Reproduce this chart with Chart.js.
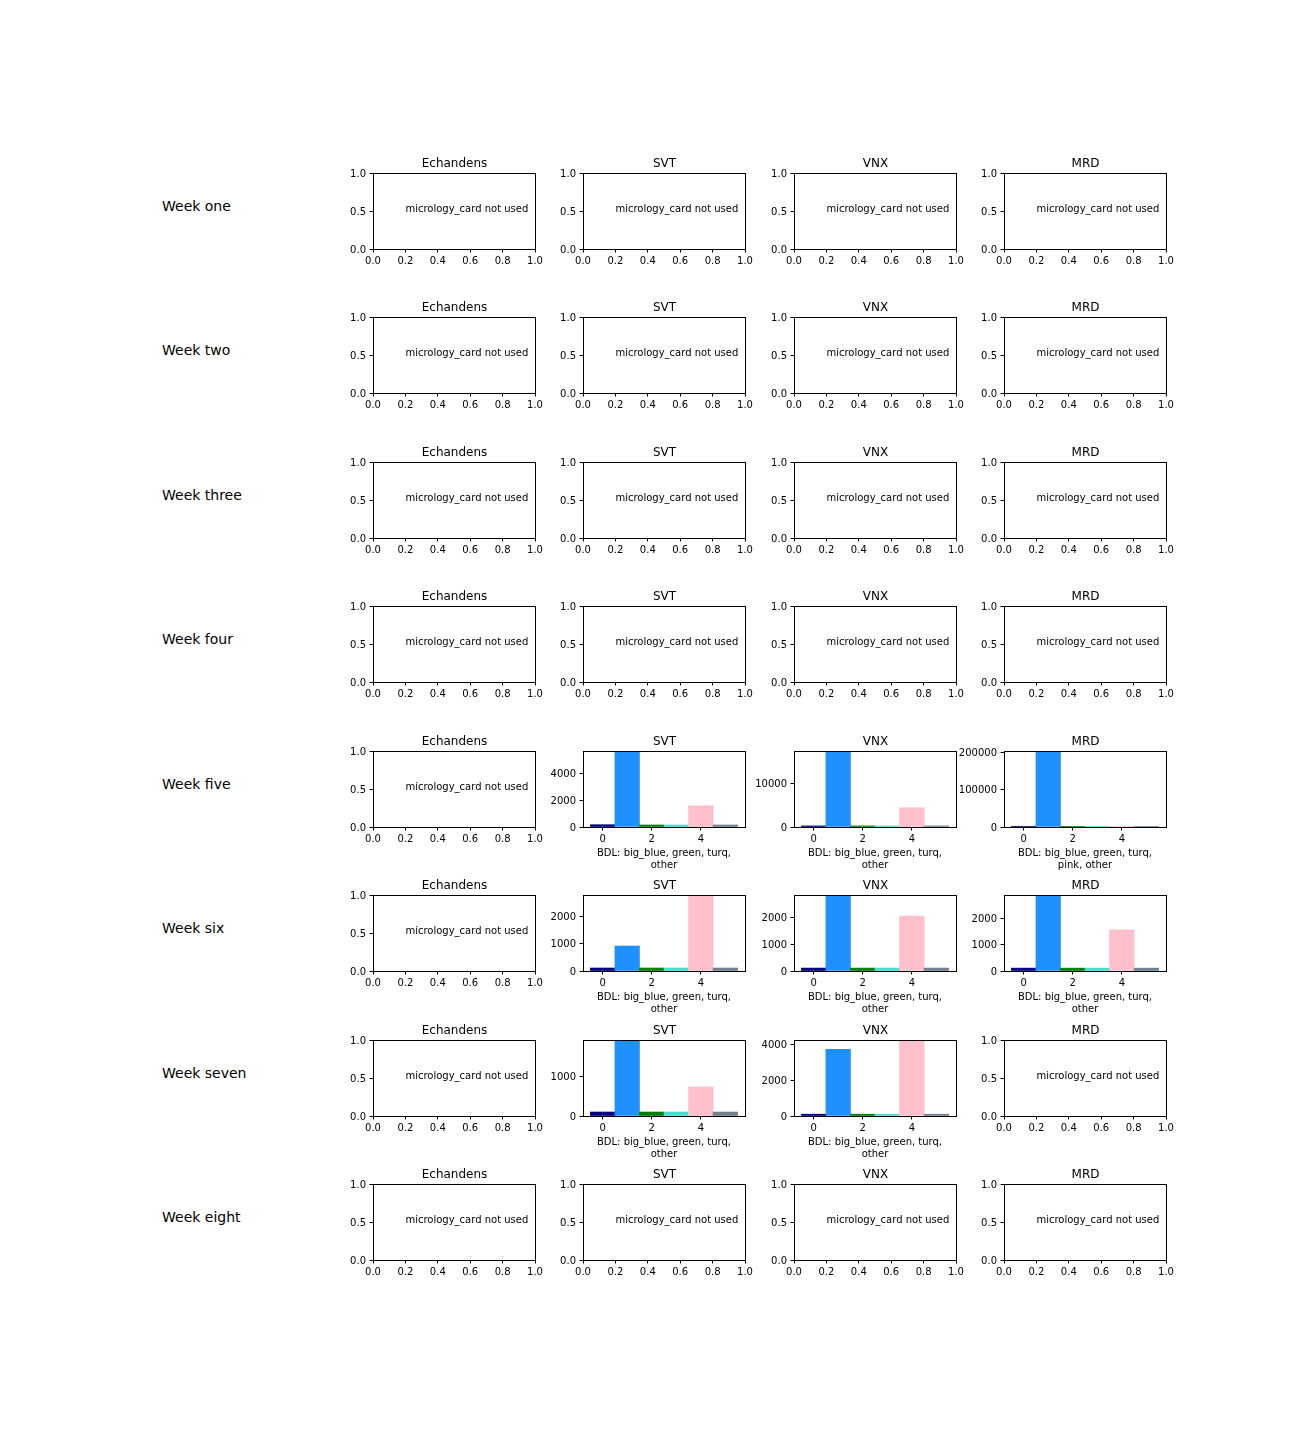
<!DOCTYPE html>
<html><head><meta charset="utf-8">
<script src="https://cdn.jsdelivr.net/npm/chart.js@4"></script>
<style>
html,body{margin:0;padding:0;background:#fff;}
body{width:1296px;height:1440px;position:relative;overflow:hidden;}
canvas{position:absolute;}
.wk{position:absolute;font:14px/14px "DejaVu Sans",sans-serif;color:#000;white-space:nowrap;}
</style></head><body>
<script>
// ---------- data ----------
const weekNames = ['Week one','Week two','Week three','Week four','Week five','Week six','Week seven','Week eight'];
const siteNames = ['Echandens','SVT','VNX','MRD'];
const binPositions = [0, 1, 2, 3, 4, 5];
const barTicksX = [0, 2, 4];
const emptyTicksX = [0, 0.2, 0.4, 0.6, 0.8, 1.0];
const emptyTicksY = [0, 0.5, 1.0];
const emptyNote = 'micrology_card not used';
const bdlLabel = ['BDL: big_blue, green, turq,', 'other'];
const bdlLabelPink = ['BDL: big_blue, green, turq,', 'pink, other'];

const week5SVT = [170, 5650, 150, 150, 1580, 150];
const week5VNX = [250, 17350, 250, 250, 4390, 250];
const week5MRD = [40, 203500, 40, 40, 40, 40];
const week6SVT = [110, 920, 110, 110, 2800, 110];
const week6VNX = [110, 2860, 110, 110, 2070, 110];
const week6MRD = [110, 2910, 110, 110, 1580, 110];
const week7SVT = [100, 1910, 100, 100, 730, 100];
const week7VNX = [100, 3720, 100, 100, 4240, 100];

const week5SVTTicks = [0, 2000, 4000];
const week5VNXTicks = [0, 10000];
const week5MRDTicks = [0, 100000, 200000];
const week6SVTTicks = [0, 1000, 2000];
const week6VNXTicks = [0, 1000, 2000];
const week6MRDTicks = [0, 1000, 2000];
const week7SVTTicks = [0, 1000];
const week7VNXTicks = [0, 2000, 4000];

// ---------- styles / layout ----------
const barColors = ['#000080', '#1E90FF', '#008000', '#40E0D0', '#FFC0CB', '#708090'];
const PW = 162, PH = 76, PADL = 60, PADT = 25, PADR = 30, PADB = 50;
const rowTop = r => Math.round(172.8 + r * 144.49);
const colLeft = c => Math.round(372.6 + c * 210.6);

const barPanels = [
  {row: 4, col: 1, values: week5SVT, ticks: week5SVTTicks, xlabel: bdlLabel},
  {row: 4, col: 2, values: week5VNX, ticks: week5VNXTicks, xlabel: bdlLabel},
  {row: 4, col: 3, values: week5MRD, ticks: week5MRDTicks, xlabel: bdlLabelPink},
  {row: 5, col: 1, values: week6SVT, ticks: week6SVTTicks, xlabel: bdlLabel},
  {row: 5, col: 2, values: week6VNX, ticks: week6VNXTicks, xlabel: bdlLabel},
  {row: 5, col: 3, values: week6MRD, ticks: week6MRDTicks, xlabel: bdlLabel},
  {row: 6, col: 1, values: week7SVT, ticks: week7SVTTicks, xlabel: bdlLabel},
  {row: 6, col: 2, values: week7VNX, ticks: week7VNXTicks, xlabel: bdlLabel},
];

Chart.defaults.font.family = '"DejaVu Sans", sans-serif';
Chart.defaults.font.size = 10;
Chart.defaults.color = '#000';
Chart.defaults.animation = false;

const framePlugin = {
  id: 'frame',
  afterDraw(chart, args, opts) {
    const {ctx, chartArea: a} = chart;
    ctx.save();
    ctx.strokeStyle = '#000';
    ctx.lineWidth = 1;
    ctx.strokeRect(a.left + 0.5, a.top + 0.5, a.right - a.left, a.bottom - a.top);
    ctx.fillStyle = '#000';
    ctx.font = '12px "DejaVu Sans", sans-serif';
    ctx.textAlign = 'center';
    ctx.textBaseline = 'alphabetic';
    ctx.fillText(opts.title || '', (a.left + a.right) / 2 + 0.5, a.top - 6);
    if (opts.note) {
      ctx.font = '10px "DejaVu Sans", sans-serif';
      ctx.textAlign = 'left';
      const sx = chart.scales.x, sy = chart.scales.y;
      ctx.fillText(opts.note, sx.getPixelForValue(0.2), sy.getPixelForValue(0.5) + 0.5);
    }
    ctx.restore();
  }
};

function makeCanvas(r, c) {
  const cv = document.createElement('canvas');
  cv.width = PADL + PW + PADR;
  cv.height = PADT + PH + PADB;
  cv.style.left = (colLeft(c) - PADL) + 'px';
  cv.style.top = (rowTop(r) - PADT) + 'px';
  document.body.appendChild(cv);
  return cv;
}

function fitter(size, isX) {
  return s => {
    if (isX) s.height = size; else s.width = size;
    s.paddingLeft = s.paddingRight = s.paddingTop = s.paddingBottom = 0;
  };
}

function axis(isX, min, max, tickVals, fmt, title) {
  return {
    type: 'linear', min, max, offset: false,
    grid: {display: true, drawOnChartArea: false, drawTicks: true, tickLength: 3.5, color: '#000', lineWidth: 1, offset: false},
    border: {display: false},
    ticks: {padding: isX ? 2.5 : 3.5, labelOffset: isX ? 0 : 1, autoSkip: false, maxRotation: 0, minRotation: 0, includeBounds: false,
            callback: fmt, color: '#000', font: {size: 10}},
    title: title ? {display: true, text: title, color: '#000', font: {size: 10}, padding: {top: 0, bottom: 6}} : {display: false},
    afterBuildTicks: s => { s.ticks = tickVals.map(v => ({value: v})); },
    afterFit: fitter(isX ? PADB : PADL, isX)
  };
}

const baseOpts = {
  responsive: false, animation: false,
  layout: {padding: {left: 0, top: PADT, right: PADR, bottom: 0}},
  plugins: {legend: {display: false}, tooltip: {enabled: false}, title: {display: false}}
};

// week labels
weekNames.forEach((w, r) => {
  const d = document.createElement('div');
  d.className = 'wk';
  d.textContent = w;
  d.style.left = '162px';
  d.style.top = (172.8 + r * 144.49 + 38 - 11.9) + 'px';
  document.body.appendChild(d);
});

const barKey = {};
barPanels.forEach(p => barKey[p.row + '-' + p.col] = p);

for (let r = 0; r < weekNames.length; r++) {
  for (let c = 0; c < siteNames.length; c++) {
    const cv = makeCanvas(r, c);
    const p = barKey[r + '-' + c];
    if (p) {
      const xmin = binPositions[0] - 0.5 - 0.05 * binPositions.length;
      const xmax = binPositions[binPositions.length - 1] + 0.5 + 0.05 * binPositions.length;
      new Chart(cv, {
        type: 'bar',
        data: {datasets: [{
          data: p.values.map((v, i) => ({x: binPositions[i], y: v})),
          backgroundColor: barColors, borderWidth: 0,
          barPercentage: 1, categoryPercentage: 1
        }]},
        options: Object.assign({}, baseOpts, {
          plugins: Object.assign({}, baseOpts.plugins, {frame: {title: siteNames[c]}}),
          scales: {
            x: axis(true, xmin, xmax, barTicksX, v => String(v), p.xlabel),
            y: axis(false, 0, Math.max(...p.values), p.ticks, v => String(v), null)
          }
        }),
        plugins: [framePlugin]
      });
    } else {
      new Chart(cv, {
        type: 'scatter',
        data: {datasets: [{data: []}]},
        options: Object.assign({}, baseOpts, {
          plugins: Object.assign({}, baseOpts.plugins, {frame: {title: siteNames[c], note: emptyNote}}),
          scales: {
            x: axis(true, 0, 1, emptyTicksX, v => Number(v).toFixed(1), null),
            y: axis(false, 0, 1, emptyTicksY, v => Number(v).toFixed(1), null)
          }
        }),
        plugins: [framePlugin]
      });
    }
  }
}
</script>
</body></html>
